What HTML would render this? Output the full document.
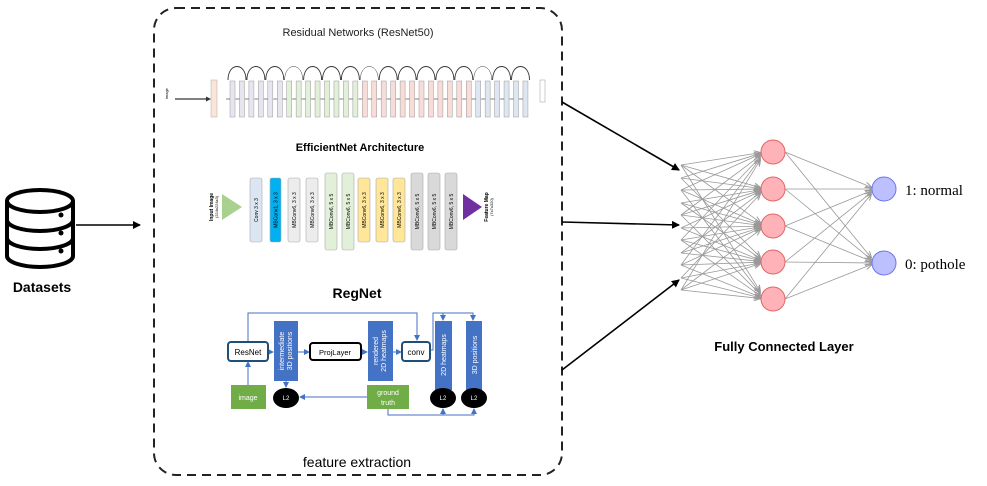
<!DOCTYPE html>
<html><head><meta charset="utf-8"><style>
html,body{margin:0;padding:0;background:#fff;}
svg{display:block;font-family:"Liberation Sans",sans-serif;}
</style></head><body>
<svg id="s" width="987" height="486" viewBox="0 0 987 486" xmlns="http://www.w3.org/2000/svg">
<defs>
<marker id="ab" markerWidth="8" markerHeight="8" refX="7" refY="4" orient="auto" markerUnits="userSpaceOnUse"><path d="M0,0 L8,4 L0,8 Z" fill="#000"/></marker>
<marker id="ag" markerWidth="7" markerHeight="6" refX="6" refY="3" orient="auto" markerUnits="userSpaceOnUse"><path d="M0,0 L7,3 L0,6" fill="none" stroke="#999" stroke-width="1"/></marker>
<marker id="abl" markerWidth="6" markerHeight="6" refX="5" refY="3" orient="auto" markerUnits="userSpaceOnUse"><path d="M0,0 L6,3 L0,6 Z" fill="#4472c4"/></marker>
<marker id="as" markerWidth="5" markerHeight="5" refX="4" refY="2.5" orient="auto" markerUnits="userSpaceOnUse"><path d="M0,0 L5,2.5 L0,5 Z" fill="#333"/></marker>
</defs>
<!-- dashed container -->
<rect x="154" y="8" width="408" height="467" rx="22" fill="none" stroke="#222" stroke-width="2" stroke-dasharray="9,6"/>

<!-- database icon -->
<g fill="none" stroke="#000" stroke-width="4">
<ellipse cx="40" cy="201" rx="33" ry="11"/>
<path d="M7,201 V256 A33,11 0 0 0 73,256 V201"/>
<path d="M7,220 A33,11 0 0 0 73,220"/>
<path d="M7,238 A33,11 0 0 0 73,238"/>
</g>
<circle cx="61" cy="215" r="2.5"/><circle cx="61" cy="233" r="2.5"/><circle cx="61" cy="251" r="2.5"/>
<text x="42" y="292" font-size="14" font-weight="bold" text-anchor="middle">Datasets</text>
<line x1="76" y1="225" x2="140" y2="225" stroke="#000" stroke-width="1.5" marker-end="url(#ab)"/>

<!-- ResNet50 -->
<text x="358" y="36" font-size="11" text-anchor="middle" fill="#222">Residual Networks (ResNet50)</text>
<g id="resnet"></g>
<line x1="175" y1="99" x2="210" y2="99" stroke="#000" stroke-width="1" marker-end="url(#as)"/>
<text x="168" y="99" font-size="4" transform="rotate(-90 168 99)">image</text>

<!-- EfficientNet -->
<text x="360" y="151" font-size="11" font-weight="bold" text-anchor="middle">EfficientNet Architecture</text>
<polygon points="222,194 242,207 222,220" fill="#a9d18e"/>
<polygon points="463,194 482,207 463,220" fill="#7030a0"/>
<text x="213" y="207" font-size="5" font-weight="bold" text-anchor="middle" transform="rotate(-90 213 207)">Input Image</text>
<text x="218" y="207" font-size="4" text-anchor="middle" transform="rotate(-90 218 207)">(224x224x3)</text>
<text x="488" y="207" font-size="5" font-weight="bold" text-anchor="middle" transform="rotate(-90 488 207)">Feature Map</text>
<text x="493" y="207" font-size="4" text-anchor="middle" transform="rotate(-90 493 207)">(7x7x320)</text>
<g id="eff"></g>

<!-- RegNet -->
<text x="357" y="298" font-size="14" font-weight="bold" text-anchor="middle">RegNet</text>
<g stroke="#4472c4" stroke-width="1" fill="none">
<path d="M248,342 V313 H417 V340" marker-end="url(#abl)"/>
<path d="M248,385 V362" marker-end="url(#abl)"/>
<path d="M268,352 H273" marker-end="url(#abl)"/>
<path d="M298,352 H309" marker-end="url(#abl)"/>
<path d="M361,352 H367" marker-end="url(#abl)"/>
<path d="M393,352 H401" marker-end="url(#abl)"/>
<path d="M430,350 H433 V313 H473 V320" marker-end="url(#abl)"/>
<path d="M443,313 V320" marker-end="url(#abl)"/>
<path d="M286,381 V387" marker-end="url(#abl)"/>
<path d="M443,390 V387" marker-end="url(#abl)"/>
<path d="M474,390 V387" marker-end="url(#abl)"/>
<path d="M367,397 H300" marker-end="url(#abl)"/>
<path d="M388,409 V415 H474 V409" marker-end="url(#abl)"/>
<path d="M443,415 V409" marker-end="url(#abl)"/>
</g>
<rect x="228" y="342" width="40" height="19" rx="3" fill="#fff" stroke="#1f4e79" stroke-width="2"/>
<text x="248" y="355" font-size="8" text-anchor="middle">ResNet</text>
<rect x="310" y="343" width="51" height="17" rx="3" fill="#fff" stroke="#000" stroke-width="2"/>
<text x="335" y="355" font-size="7.5" text-anchor="middle">ProjLayer</text>
<rect x="402" y="342" width="28" height="19" rx="3" fill="#fff" stroke="#1f4e79" stroke-width="2"/>
<text x="416" y="355" font-size="8" text-anchor="middle">conv</text>
<g fill="#4472c4">
<rect x="274" y="321" width="24" height="60"/>
<rect x="368" y="321" width="25" height="60"/>
<rect x="435" y="321" width="17" height="69"/>
<rect x="466" y="321" width="16" height="69"/>
</g>
<g fill="#fff" font-size="7" text-anchor="middle">
<text transform="translate(284,351) rotate(-90)">intermediate</text>
<text transform="translate(292,351) rotate(-90)">3D positions</text>
<text transform="translate(378,351) rotate(-90)">rendered</text>
<text transform="translate(386,351) rotate(-90)">2D heatmaps</text>
<text transform="translate(446,355) rotate(-90)">2D heatmaps</text>
<text transform="translate(477,355) rotate(-90)">3D positions</text>
</g>
<rect x="231" y="385" width="35" height="24" fill="#70ad47"/>
<text x="248" y="400" font-size="7" fill="#fff" text-anchor="middle">image</text>
<rect x="367" y="385" width="42" height="24" fill="#70ad47"/>
<text x="388" y="395" font-size="7" fill="#fff" text-anchor="middle">ground</text>
<text x="388" y="405" font-size="7" fill="#fff" text-anchor="middle">truth</text>
<g fill="#000"><ellipse cx="286" cy="398" rx="13" ry="10"/><ellipse cx="443" cy="398" rx="13" ry="10"/><ellipse cx="474" cy="398" rx="13" ry="10"/></g>
<g fill="#fff" font-size="6" text-anchor="middle"><text x="286" y="400">L2</text><text x="443" y="400">L2</text><text x="474" y="400">L2</text></g>
<text x="357" y="467" font-size="14" text-anchor="middle">feature extraction</text>

<!-- big arrows -->
<g stroke="#000" stroke-width="1.6">
<line x1="562" y1="102" x2="679" y2="170" marker-end="url(#ab)"/>
<line x1="562" y1="222" x2="679" y2="225" marker-end="url(#ab)"/>
<line x1="562" y1="370" x2="679" y2="280" marker-end="url(#ab)"/>
</g>
<g id="nn"></g>
<text x="905" y="195" font-size="15" font-family="Liberation Serif,serif">1: normal</text>
<text x="905" y="269" font-size="15" font-family="Liberation Serif,serif">0: pothole</text>
<text x="784" y="351" font-size="13" font-weight="bold" text-anchor="middle">Fully Connected Layer</text>
</svg>
<script>
var NS="http://www.w3.org/2000/svg";
function el(p,t,a){var e=document.createElementNS(NS,t);for(var k in a)e.setAttribute(k,a[k]);p.appendChild(e);return e;}
// resnet
var r=document.getElementById("resnet");
el(r,"rect",{x:211,y:80,width:6,height:37,fill:"#fbe5d6",stroke:"#aaa","stroke-width":0.5});
var cols=[];for(var i=0;i<6;i++)cols.push("#e7e6f0");for(i=0;i<8;i++)cols.push("#e2efd9");for(i=0;i<12;i++)cols.push("#f8dcd8");for(i=0;i<6;i++)cols.push("#dde6f1");
for(i=0;i<cols.length;i++){var x=230+i*9.45;el(r,"rect",{x:x,y:81,width:5,height:36,fill:cols[i],stroke:"#999","stroke-width":0.5});
el(r,"line",{x1:x-4,y1:99,x2:x,y2:99,stroke:"#333","stroke-width":0.6});}
for(i=0;i<16;i++){var x0=228+i*18.9;el(r,"path",{d:"M"+x0+",80 C"+x0+",62 "+(x0+18)+",62 "+(x0+18)+",80",fill:"none",stroke:"#333","stroke-width":(i==3||i==7||i==13)?0.5:0.9});}
el(r,"rect",{x:540,y:80,width:5,height:22,fill:"#fff",stroke:"#999","stroke-width":0.5});
// efficientnet
var e=document.getElementById("eff");
var B=[[250,12,"#dce6f2",178,242,"Conv 3 x 3"],[270,11,"#00b0f0",178,242,"MBConv1, 3 x 3"],[288,12,"#ececec",178,242,"MBConv6, 3 x 3"],[306,12,"#ececec",178,242,"MBConv6, 3 x 3"],
[325,12,"#e2f0d9",173,250,"MBConv6, 5 x 5"],[342,12,"#e2f0d9",173,250,"MBConv6, 5 x 5"],[358,12,"#ffe699",178,242,"MBConv6, 3 x 3"],[376,12,"#ffe699",178,242,"MBConv6, 3 x 3"],[393,12,"#ffe699",178,242,"MBConv6, 3 x 3"],
[411,12,"#d9d9d9",173,250,"MBConv6, 5 x 5"],[428,12,"#d9d9d9",173,250,"MBConv6, 5 x 5"],[445,12,"#d9d9d9",173,250,"MBConv6, 5 x 5"]];
B.forEach(function(b){el(e,"rect",{x:b[0],y:b[3],width:b[1],height:b[4]-b[3],rx:2,fill:b[2],stroke:"#aaa","stroke-width":0.6});
var t=el(e,"text",{"font-size":5,"text-anchor":"middle",transform:"translate("+(b[0]+b[1]/2+2)+","+((b[3]+b[4])/2)+") rotate(-90)"});t.textContent=b[5];});
// nn
var n=document.getElementById("nn");
var H=[152,189,226,262,299],O=[189,263],L=[165,178,190,203,215,228,240,253,265,278,290];
L.forEach(function(y,i){[0,1,2,3,4].forEach(function(j){if((i+j)%2==0||Math.abs(i/2.5-j)<1.2)el(n,"line",{x1:681,y1:y,x2:760,y2:H[j]+(y-H[j])*0.06,stroke:"#999","stroke-width":0.8,"marker-end":"url(#ag)"});});});
H.forEach(function(h){O.forEach(function(o){el(n,"line",{x1:785,y1:h,x2:871,y2:o+(h-o)*0.05,stroke:"#999","stroke-width":0.8,"marker-end":"url(#ag)"});});});
H.forEach(function(h){el(n,"circle",{cx:773,cy:h,r:12,fill:"#ffb3b8",stroke:"#e06666","stroke-width":1});});
O.forEach(function(o){el(n,"circle",{cx:884,cy:o,r:12,fill:"#bcc0ff",stroke:"#6d74e8","stroke-width":1});});
</script>
</body></html>
